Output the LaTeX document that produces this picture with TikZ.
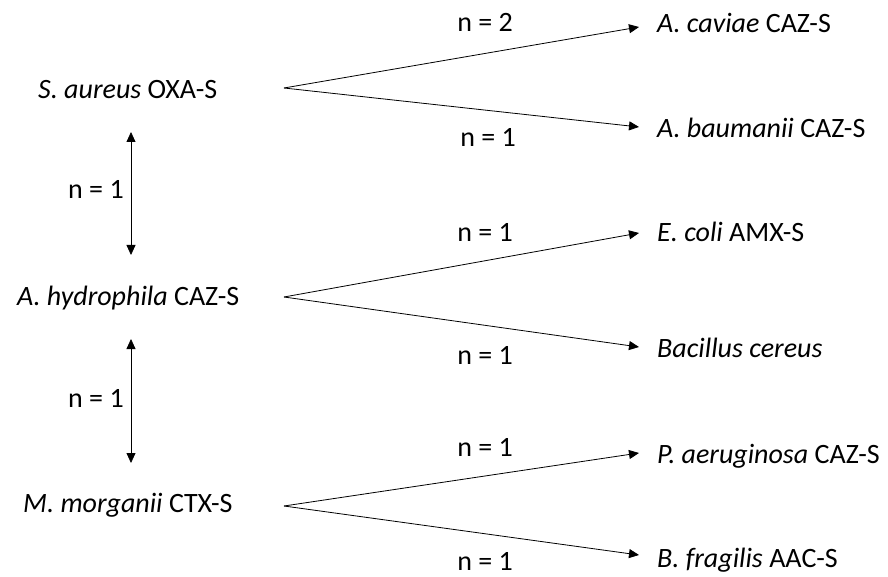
\documentclass[tikz,border=0pt]{standalone}
\usepackage{fontspec}
\setmainfont{Carlito}
\usetikzlibrary{arrows.meta,calc}
\begin{document}
\begin{tikzpicture}[x=1pt,y=-1pt,
  lbl/.style={inner sep=0pt,anchor=base west,font=\fontsize{28}{32}\selectfont},
  nlbl/.style={inner sep=0pt,anchor=base,font=\fontsize{28}{32}\selectfont},
  conn/.style={line width=0.8pt,-{Triangle[length=10pt,width=9pt]}},
  dconn/.style={line width=0.8pt,{Triangle[length=10pt,width=9pt]}-{Triangle[length=10pt,width=9pt]}}]
\useasboundingbox (0,0) rectangle (888,577);
% left nodes
\node[lbl] (sa) at (38,99) {\textit{S. aureus} OXA-S};
\node[lbl] (ah) at (17,305) {\textit{A. hydrophila} CAZ-S};
\node[lbl] (mm) at (23,512) {\textit{M. morganii} CTX-S};
% right nodes
\node[lbl] (ac) at (657,33) {\textit{A. caviae} CAZ-S};
\node[lbl] (ab) at (657,138) {\textit{A. baumanii} CAZ-S};
\node[lbl] (ec) at (657,242) {\textit{E. coli} AMX-S};
\node[lbl] (bc) at (657,357) {\textit{Bacillus cereus}};
\node[lbl] (pa) at (657,463) {\textit{P. aeruginosa} CAZ-S};
\node[lbl] (bf) at (657,567) {\textit{B. fragilis} AAC-S};
% apexes
\coordinate (x1) at (284,88);
\coordinate (x2) at (284,297);
\coordinate (x3) at (284,506);
% fan connectors
\draw[conn] (x1) -- ($(ac.base west)+(-18,-6)$);
\draw[conn] (x1) -- ($(ab.base west)+(-18,-11)$);
\draw[conn] (x2) -- ($(ec.base west)+(-18,-9)$);
\draw[conn] (x2) -- ($(bc.base west)+(-18,-10)$);
\draw[conn] (x3) -- ($(pa.base west)+(-18,-10)$);
\draw[conn] (x3) -- ($(bf.base west)+(-18,-12)$);
% fan labels
\node[nlbl] (n1) at (485,32) {n = 2};
\node[nlbl] (n2) at (488,147) {n = 1};
\node[nlbl] (n3) at (485,241) {n = 1};
\node[nlbl] (n4) at (485,364) {n = 1};
\node[nlbl] (n5) at (485,456) {n = 1};
\node[nlbl] (n6) at (485,570) {n = 1};
% vertical arrows
\draw[dconn] ($(sa.base west)+(93,33)$) -- ($(ah.base west)+(114,-50)$);
\draw[dconn] ($(ah.base west)+(114,34)$) -- ($(mm.base west)+(108,-49)$);
\node[lbl] (v1) at (68,199) {n = 1};
\node[lbl] (v2) at (68,407) {n = 1};
\end{tikzpicture}
\end{document}
